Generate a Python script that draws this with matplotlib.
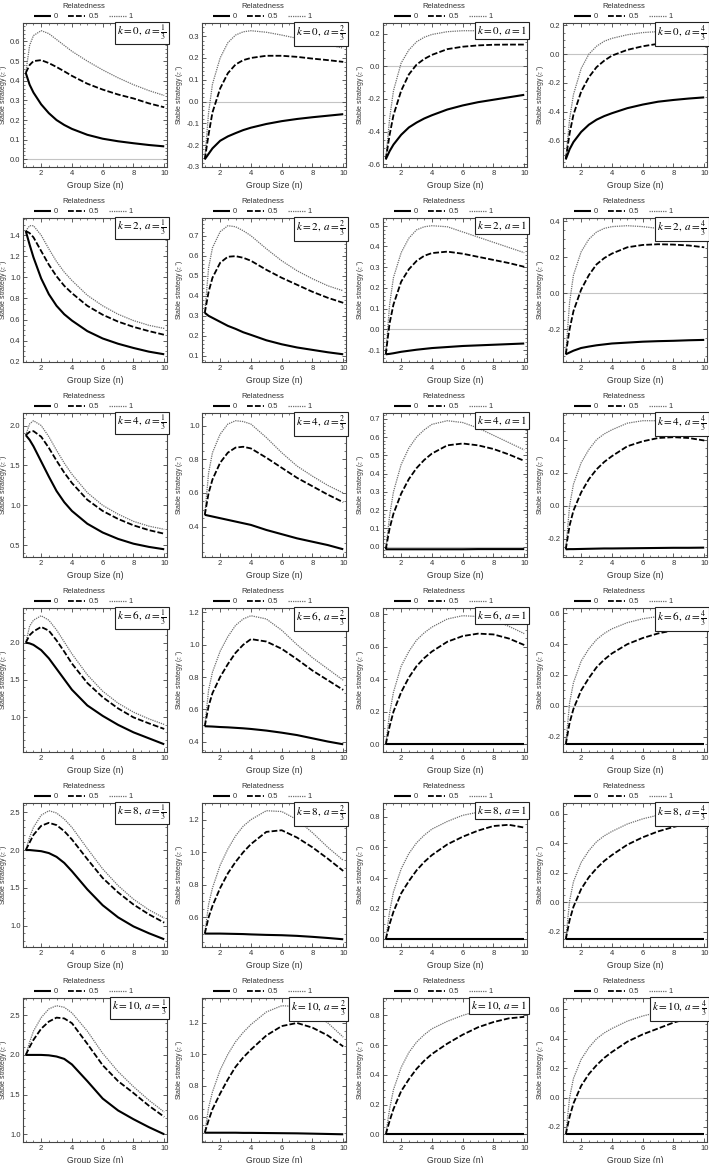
import matplotlib
matplotlib.use("Agg")
import matplotlib.pyplot as plt
from matplotlib.ticker import MultipleLocator, AutoMinorLocator, FormatStrFormatter

plt.rcParams['font.family'] = ['Liberation Sans', 'DejaVu Sans']
plt.rcParams['mathtext.fontset'] = 'stix'
plt.rcParams['axes.unicode_minus'] = False

# ---------------- data ----------------
group_size = [1, 1.25, 1.5, 2, 2.5, 3, 3.5, 4, 5, 6, 7, 8, 9, 10]
relatedness = ['0', '0.5', '1']
k_values = [0, 2, 4, 6, 8, 10]
a_labels = [r'\frac{1}{3}', r'\frac{2}{3}', r'1', r'\frac{4}{3}']

# each panel: [r=0, r=0.5, r=1]
z_k0_a1 = [[0.44, 0.38, 0.34, 0.28, 0.235, 0.20, 0.175, 0.155, 0.125, 0.105, 0.092, 0.082, 0.073, 0.066],
           [0.44, 0.48, 0.50, 0.505, 0.49, 0.47, 0.448, 0.425, 0.385, 0.355, 0.33, 0.31, 0.285, 0.265],
           [0.44, 0.58, 0.63, 0.655, 0.64, 0.61, 0.58, 0.55, 0.50, 0.455, 0.415, 0.38, 0.35, 0.325]]
z_k0_a2 = [[-0.265, -0.24, -0.215, -0.18, -0.16, -0.145, -0.131, -0.12, -0.103, -0.09, -0.08, -0.072, -0.065, -0.058],
           [-0.265, -0.15, -0.05, 0.06, 0.13, 0.17, 0.19, 0.20, 0.21, 0.21, 0.205, 0.197, 0.19, 0.182],
           [-0.265, -0.05, 0.08, 0.20, 0.27, 0.305, 0.32, 0.325, 0.318, 0.305, 0.29, 0.275, 0.26, 0.245]]
z_k0_a3 = [[-0.57, -0.52, -0.48, -0.42, -0.375, -0.345, -0.32, -0.30, -0.265, -0.24, -0.22, -0.205, -0.19, -0.175],
           [-0.57, -0.42, -0.30, -0.15, -0.05, 0.01, 0.045, 0.07, 0.105, 0.12, 0.128, 0.132, 0.133, 0.133],
           [-0.57, -0.32, -0.15, 0.02, 0.10, 0.15, 0.178, 0.195, 0.212, 0.218, 0.218, 0.215, 0.212, 0.208]]
z_k0_a4 = [[-0.73, -0.66, -0.61, -0.54, -0.49, -0.455, -0.43, -0.41, -0.375, -0.35, -0.33, -0.318, -0.308, -0.30],
           [-0.73, -0.55, -0.42, -0.26, -0.16, -0.09, -0.045, -0.01, 0.03, 0.055, 0.072, 0.083, 0.09, 0.095],
           [-0.73, -0.45, -0.28, -0.10, 0.0, 0.055, 0.09, 0.11, 0.135, 0.15, 0.157, 0.16, 0.162, 0.163]]

z_k2_a1 = [[1.44, 1.31, 1.19, 0.99, 0.84, 0.73, 0.65, 0.59, 0.49, 0.42, 0.37, 0.33, 0.295, 0.27],
           [1.44, 1.42, 1.38, 1.25, 1.12, 1.01, 0.92, 0.85, 0.73, 0.645, 0.58, 0.53, 0.49, 0.455],
           [1.44, 1.49, 1.49, 1.40, 1.27, 1.15, 1.05, 0.97, 0.83, 0.73, 0.65, 0.59, 0.545, 0.515]]
z_k2_a2 = [[0.315, 0.30, 0.29, 0.27, 0.25, 0.235, 0.218, 0.205, 0.178, 0.158, 0.142, 0.13, 0.118, 0.108],
           [0.315, 0.42, 0.49, 0.565, 0.595, 0.598, 0.59, 0.575, 0.53, 0.49, 0.455, 0.42, 0.39, 0.365],
           [0.315, 0.54, 0.64, 0.72, 0.75, 0.745, 0.725, 0.70, 0.635, 0.575, 0.525, 0.485, 0.45, 0.425]]
z_k2_a3 = [[-0.12, -0.118, -0.115, -0.108, -0.103, -0.098, -0.094, -0.09, -0.085, -0.08, -0.077, -0.074, -0.071, -0.068],
           [-0.12, 0.03, 0.12, 0.23, 0.29, 0.33, 0.355, 0.368, 0.375, 0.365, 0.35, 0.335, 0.32, 0.302],
           [-0.12, 0.12, 0.25, 0.37, 0.44, 0.48, 0.495, 0.50, 0.495, 0.47, 0.445, 0.42, 0.395, 0.37]]
z_k2_a4 = [[-0.34, -0.33, -0.32, -0.305, -0.297, -0.29, -0.285, -0.28, -0.275, -0.27, -0.267, -0.265, -0.262, -0.26],
           [-0.34, -0.20, -0.10, 0.02, 0.10, 0.16, 0.195, 0.22, 0.255, 0.268, 0.272, 0.27, 0.265, 0.255],
           [-0.34, -0.05, 0.10, 0.23, 0.30, 0.34, 0.36, 0.37, 0.375, 0.37, 0.36, 0.35, 0.34, 0.325]]

z_k4_a1 = [[1.88, 1.82, 1.74, 1.55, 1.36, 1.18, 1.04, 0.93, 0.77, 0.66, 0.58, 0.52, 0.48, 0.45],
           [1.88, 1.92, 1.93, 1.86, 1.72, 1.56, 1.41, 1.28, 1.07, 0.93, 0.83, 0.75, 0.69, 0.645],
           [1.88, 2.02, 2.06, 2.00, 1.86, 1.69, 1.53, 1.39, 1.16, 1.00, 0.89, 0.80, 0.74, 0.70]]
z_k4_a2 = [[0.47, 0.465, 0.46, 0.45, 0.44, 0.43, 0.42, 0.41, 0.38, 0.355, 0.33, 0.31, 0.29, 0.265],
           [0.47, 0.60, 0.68, 0.78, 0.84, 0.87, 0.875, 0.865, 0.81, 0.75, 0.69, 0.64, 0.59, 0.545],
           [0.47, 0.72, 0.84, 0.95, 1.01, 1.03, 1.025, 1.01, 0.93, 0.84, 0.76, 0.70, 0.645, 0.60]]
z_k4_a3 = [[-0.015, -0.015, -0.015, -0.015, -0.015, -0.015, -0.015, -0.015, -0.015, -0.015, -0.014, -0.014, -0.014, -0.014],
           [-0.015, 0.10, 0.18, 0.29, 0.37, 0.43, 0.475, 0.51, 0.555, 0.565, 0.555, 0.535, 0.505, 0.47],
           [-0.015, 0.17, 0.30, 0.45, 0.54, 0.60, 0.64, 0.67, 0.69, 0.68, 0.65, 0.61, 0.57, 0.53]]
z_k4_a4 = [[-0.265, -0.264, -0.264, -0.263, -0.262, -0.261, -0.26, -0.26, -0.259, -0.258, -0.257, -0.256, -0.256, -0.255],
           [-0.265, -0.12, -0.03, 0.08, 0.16, 0.22, 0.265, 0.30, 0.36, 0.39, 0.41, 0.415, 0.41, 0.395],
           [-0.265, 0.0, 0.13, 0.26, 0.34, 0.40, 0.435, 0.46, 0.50, 0.515, 0.515, 0.505, 0.49, 0.47]]

z_k6_a1 = [[2.0, 1.99, 1.97, 1.90, 1.79, 1.65, 1.51, 1.37, 1.16, 1.02, 0.90, 0.80, 0.72, 0.64],
           [2.0, 2.10, 2.15, 2.21, 2.16, 2.03, 1.88, 1.72, 1.46, 1.27, 1.12, 1.00, 0.92, 0.845],
           [2.0, 2.22, 2.30, 2.36, 2.30, 2.17, 2.01, 1.85, 1.57, 1.35, 1.19, 1.07, 0.98, 0.905]]
z_k6_a2 = [[0.495, 0.494, 0.493, 0.49, 0.488, 0.485, 0.482, 0.478, 0.468, 0.455, 0.44, 0.42, 0.40, 0.383],
           [0.495, 0.62, 0.70, 0.80, 0.88, 0.95, 1.00, 1.035, 1.02, 0.975, 0.91, 0.84, 0.78, 0.72],
           [0.495, 0.72, 0.83, 0.96, 1.05, 1.12, 1.16, 1.18, 1.16, 1.09, 1.00, 0.92, 0.85, 0.78]]
z_k6_a3 = [[0.0, 0.0, 0.0, 0.0, 0.0, 0.0, 0.0, 0.0, 0.0, 0.0, 0.0, 0.0, 0.0, 0.0],
           [0.0, 0.11, 0.20, 0.32, 0.41, 0.48, 0.53, 0.57, 0.63, 0.665, 0.68, 0.675, 0.65, 0.61],
           [0.0, 0.19, 0.32, 0.48, 0.57, 0.64, 0.685, 0.72, 0.77, 0.79, 0.785, 0.765, 0.725, 0.68]]
z_k6_a4 = [[-0.25, -0.25, -0.25, -0.25, -0.25, -0.25, -0.25, -0.25, -0.25, -0.25, -0.25, -0.25, -0.25, -0.25],
           [-0.25, -0.11, -0.02, 0.10, 0.18, 0.25, 0.30, 0.34, 0.40, 0.44, 0.47, 0.49, 0.50, 0.50],
           [-0.25, 0.02, 0.15, 0.29, 0.37, 0.43, 0.47, 0.50, 0.54, 0.565, 0.58, 0.585, 0.585, 0.58]]

z_k8_a1 = [[2.0, 2.0, 1.995, 1.985, 1.96, 1.91, 1.83, 1.72, 1.48, 1.27, 1.11, 0.99, 0.90, 0.82],
           [2.0, 2.10, 2.20, 2.32, 2.36, 2.33, 2.25, 2.14, 1.88, 1.63, 1.44, 1.28, 1.15, 1.04],
           [2.0, 2.17, 2.30, 2.46, 2.52, 2.49, 2.41, 2.30, 2.02, 1.75, 1.53, 1.35, 1.21, 1.10]]
z_k8_a2 = [[0.5, 0.5, 0.5, 0.5, 0.499, 0.498, 0.497, 0.495, 0.492, 0.49, 0.486, 0.48, 0.473, 0.465],
           [0.5, 0.60, 0.67, 0.78, 0.87, 0.94, 1.00, 1.05, 1.125, 1.135, 1.09, 1.03, 0.96, 0.885],
           [0.5, 0.68, 0.78, 0.92, 1.02, 1.10, 1.16, 1.20, 1.255, 1.25, 1.20, 1.12, 1.03, 0.95]]
z_k8_a3 = [[0.0, 0.0, 0.0, 0.0, 0.0, 0.0, 0.0, 0.0, 0.0, 0.0, 0.0, 0.0, 0.0, 0.0],
           [0.0, 0.10, 0.18, 0.30, 0.38, 0.45, 0.505, 0.55, 0.62, 0.67, 0.71, 0.74, 0.748, 0.73],
           [0.0, 0.18, 0.31, 0.46, 0.56, 0.63, 0.68, 0.72, 0.77, 0.81, 0.83, 0.84, 0.835, 0.81]]
z_k8_a4 = [[-0.25, -0.25, -0.25, -0.25, -0.25, -0.25, -0.25, -0.25, -0.25, -0.25, -0.25, -0.25, -0.25, -0.25],
           [-0.25, -0.12, -0.03, 0.09, 0.17, 0.23, 0.28, 0.32, 0.39, 0.44, 0.48, 0.51, 0.535, 0.55],
           [-0.25, 0.01, 0.14, 0.27, 0.35, 0.41, 0.45, 0.48, 0.53, 0.565, 0.59, 0.605, 0.615, 0.62]]

z_k10_a1 = [[2.0, 2.0, 2.0, 2.0, 1.995, 1.98, 1.95, 1.88, 1.67, 1.45, 1.30, 1.19, 1.09, 1.00],
            [2.0, 2.10, 2.19, 2.33, 2.42, 2.47, 2.46, 2.40, 2.14, 1.87, 1.67, 1.52, 1.36, 1.22],
            [2.0, 2.16, 2.30, 2.47, 2.58, 2.62, 2.60, 2.53, 2.30, 2.02, 1.79, 1.60, 1.43, 1.28]]
z_k10_a2 = [[0.5, 0.5, 0.5, 0.5, 0.5, 0.5, 0.499, 0.499, 0.498, 0.497, 0.496, 0.494, 0.492, 0.49],
            [0.5, 0.58, 0.65, 0.75, 0.84, 0.92, 0.98, 1.03, 1.12, 1.18, 1.20, 1.17, 1.12, 1.05],
            [0.5, 0.66, 0.76, 0.90, 1.00, 1.08, 1.14, 1.19, 1.27, 1.31, 1.305, 1.27, 1.20, 1.11]]
z_k10_a3 = [[0.0, 0.0, 0.0, 0.0, 0.0, 0.0, 0.0, 0.0, 0.0, 0.0, 0.0, 0.0, 0.0, 0.0],
            [0.0, 0.09, 0.17, 0.29, 0.37, 0.44, 0.495, 0.54, 0.61, 0.67, 0.72, 0.755, 0.78, 0.79],
            [0.0, 0.17, 0.30, 0.45, 0.55, 0.62, 0.67, 0.71, 0.76, 0.80, 0.83, 0.85, 0.86, 0.865]]
z_k10_a4 = [[-0.25, -0.25, -0.25, -0.25, -0.25, -0.25, -0.25, -0.25, -0.25, -0.25, -0.25, -0.25, -0.25, -0.25],
            [-0.25, -0.13, -0.04, 0.08, 0.16, 0.22, 0.27, 0.31, 0.38, 0.43, 0.47, 0.51, 0.54, 0.565],
            [-0.25, 0.0, 0.13, 0.26, 0.34, 0.40, 0.44, 0.47, 0.52, 0.555, 0.58, 0.60, 0.615, 0.625]]

panels = [[z_k0_a1, z_k0_a2, z_k0_a3, z_k0_a4],
          [z_k2_a1, z_k2_a2, z_k2_a3, z_k2_a4],
          [z_k4_a1, z_k4_a2, z_k4_a3, z_k4_a4],
          [z_k6_a1, z_k6_a2, z_k6_a3, z_k6_a4],
          [z_k8_a1, z_k8_a2, z_k8_a3, z_k8_a4],
          [z_k10_a1, z_k10_a2, z_k10_a3, z_k10_a4]]

y_major_step = [[0.1, 0.1, 0.2, 0.2],
                [0.2, 0.1, 0.1, 0.2],
                [0.5, 0.2, 0.1, 0.2],
                [0.5, 0.2, 0.2, 0.2],
                [0.5, 0.2, 0.2, 0.2],
                [0.5, 0.2, 0.2, 0.2]]

# ---------------- layout ----------------
W, H = 709, 1163
fig = plt.figure(figsize=(W / 100, H / 100), dpi=100)

col_left = [23, 202, 383, 563]
ylabel_x = [-0.088, -0.11, -0.113, -0.113]
row_top0, row_step = 23, 195
box_w, box_h = 144, 144

styles = [dict(color='black', lw=1.5, ls='-'),
          dict(color='black', lw=1.3, ls=(0, (3.2, 1.2))),
          dict(color='#6e6e6e', lw=0.9, ls=(0, (1.0, 0.8)))]

frame_col = '#444444'
text_col = '#333333'

for i, k in enumerate(k_values):
    for j in range(4):
        top = row_top0 + row_step * i
        ax = fig.add_axes([col_left[j] / W, 1 - (top + box_h) / H, box_w / W, box_h / H])
        data = panels[i][j]
        handles = []
        for s, series in enumerate(data):
            h, = ax.plot(group_size, series, label=relatedness[s], zorder=3 - s * 0.1,
                         solid_capstyle='butt', dash_capstyle='butt', **styles[s])
            handles.append(h)
        ax.margins(x=0.02, y=0.06)
        if i == 0 and j == 0:
            ylim = (-0.039, 0.694)
        else:
            ylim = ax.get_ylim()
        ax.axhline(0, color='#c4c4c4', lw=0.8, zorder=1)
        ax.set_ylim(ylim)

        ax.xaxis.set_major_locator(MultipleLocator(2))
        ax.xaxis.set_minor_locator(AutoMinorLocator(4))
        ax.yaxis.set_major_locator(MultipleLocator(y_major_step[i][j]))
        ax.yaxis.set_minor_locator(AutoMinorLocator())
        ax.yaxis.set_major_formatter(FormatStrFormatter('%.1f'))
        ax.tick_params(which='both', direction='in', top=True, right=True,
                       colors=frame_col, labelcolor=text_col, labelsize=5.5)
        ax.tick_params(axis='y', pad=1.8)
        ax.tick_params(axis='x', pad=2.5)
        ax.tick_params(which='major', length=3.0, width=0.6)
        ax.tick_params(which='minor', length=1.6, width=0.5)
        for sp in ax.spines.values():
            sp.set_color(frame_col)
            sp.set_linewidth(0.8)

        ax.set_xlabel('Group Size (n)', fontsize=6.2, color=text_col, labelpad=2.5)
        ax.set_ylabel(r'Stable strategy ($z^{*}$)', fontsize=5.0, color=text_col)
        ax.yaxis.set_label_coords(ylabel_x[j], 0.5)

        leg = ax.legend(handles=handles, title='Relatedness', ncol=3, loc='lower center',
                        bbox_to_anchor=(0.42, 1.0), frameon=False, fontsize=5.5,
                        title_fontsize=5.5, handlelength=2.2, handletextpad=0.45,
                        columnspacing=1.3, borderaxespad=0.15, borderpad=0.2)
        for t in leg.get_texts():
            t.set_color(text_col)
        leg.get_title().set_color(text_col)
        leg._legend_box.sep = 2.5

        ax.text(0.998, 0.992, r'$k=%d,\,a=%s$' % (k, a_labels[j]), transform=ax.transAxes,
                ha='right', va='top', fontsize=8, color='black', zorder=6,
                bbox=dict(boxstyle='square,pad=0.18', fc='white', ec='#222222', lw=0.8))

fig.savefig('out.png', dpi=100)
